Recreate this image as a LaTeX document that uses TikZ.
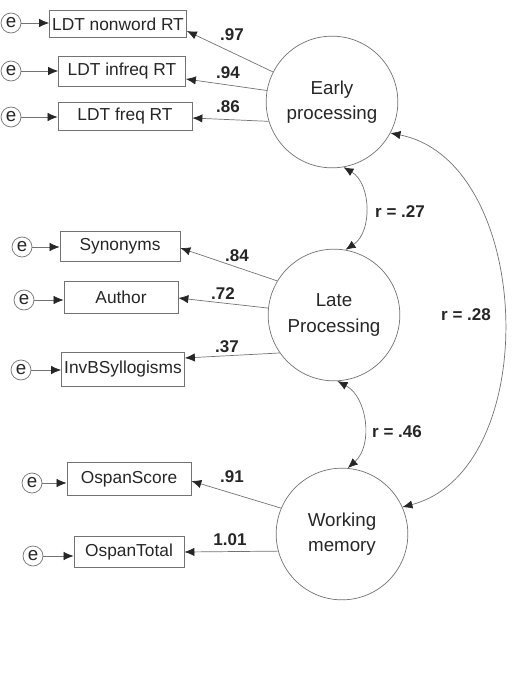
\documentclass[tikz,border=0pt]{standalone}
\usepackage{fontspec}
\setmainfont{Liberation Sans}
\usetikzlibrary{arrows.meta, positioning}

\begin{document}
\begin{tikzpicture}[x=0.03cm, y=-0.03cm, line width=0.6pt, color=black!55,
        >={Latex[length=3mm, width=2.5mm, color=black!85]},
        every node/.style={text=black!85, font=\fontsize{14.8}{21}\selectfont},
        latent/.style={circle, draw, minimum size=3.95cm, align=center, font=\fontsize{16}{21.5}\selectfont},
        obs/.style={rectangle, draw, minimum height=0.9cm, inner sep=2pt},
        err/.style={circle, draw, minimum size=0.6cm, inner sep=0pt, font=\fontsize{16}{18}\selectfont},
        coef/.style={font=\fontsize{14.5}{17}\selectfont\bfseries}]
        \useasboundingbox (0,0) rectangle (513,674);

        % latent factors
        \node[latent] (early) at (332,102) {Early\\processing};
        \node[latent] (late) at (334,315) {Late\\Processing};
        \node[latent] (wm) at (342,534) {Working\\memory};

        % observed measures
        \node[obs, minimum width=4.11cm, minimum height=0.82cm] (nonword) at (118,24) {LDT nonword RT};
        \node[obs, minimum width=3.81cm] (infreq) at (122,71) {LDT infreq RT};
        \node[obs, minimum width=4.02cm, minimum height=0.84cm] (freq) at (125,116) {LDT freq RT};
        \node[obs, minimum width=3.6cm] (syn) at (120,246) {Synonyms};
        \node[obs, minimum width=3.42cm, minimum height=0.96cm] (author) at (121,297) {Author};
        \node[obs, minimum width=3.69cm, minimum height=1.02cm] (invb) at (123,369) {InvBSyllogisms};
        \node[obs, minimum width=3.72cm, minimum height=1cm] (oscore) at (129,479) {OspanScore};
        \node[obs, minimum width=3.3cm, minimum height=0.93cm] (ototal) at (129,552) {OspanTotal};

        % error terms
        \node[err] (e1) at (11,23) {e};
        \node[err] (e2) at (11,71) {e};
        \node[err] (e3) at (11,117) {e};
        \node[err] (e4) at (22,247) {e};
        \node[err] (e5) at (24,300) {e};
        \node[err] (e6) at (21,370) {e};
        \node[err] (e7) at (32,483) {e};
        \node[err] (e8) at (33,556) {e};

        \draw[->] (e1) -- (nonword.west |- e1);
        \draw[->] (e2) -- (infreq.west |- e2);
        \draw[->] (e3) -- (freq.west |- e3);
        \draw[->] (e4) -- (syn.west |- e4);
        \draw[->] (e5) -- (author.west |- e5);
        \draw[->] (e6) -- (invb.west |- e6);
        \draw[->] (e7) -- (oscore.west |- e7);
        \draw[->] (e8) -- (ototal.west |- e8);

        % loadings
        \draw[->] (early.153) -- (nonword.east |- 0,31);
        \draw[->] (early.170) -- (infreq.east |- 0,79);
        \draw[->] (early.197) -- (freq.east |- 0,118);
        \draw[->] (late.149) -- (syn.east |- 0,248);
        \draw[->] (late.174) -- (author.east |- 0,298);
        \draw[->] (late.215) -- (invb.east |- 0,358);
        \draw[->] (wm.157) -- (oscore.east |- 0,481);
        \draw[->] (wm.195) -- (ototal.east |- 0,552);

        \node[coef] (c97) at (232,35) {.97};
        \node[coef] (c94) at (228,73) {.94};
        \node[coef] (c86) at (228,107) {.86};
        \node[coef] (c84) at (237,256) {.84};
        \node[coef] (c72) at (223,294) {.72};
        \node[coef] (c37) at (227,347) {.37};
        \node[coef] (c91) at (232,477) {.91};
        \node[coef] (c101) at (230,540) {1.01};

        % correlations
        \draw[<->] (early.-80) to[bend left=58] (late.80);
        \node[coef] (r27) at (400,212) {r = .27};
        \draw[<->] (late.-87) to[bend left=55] (wm.85);
        \node[coef] (r46) at (397,432) {r = .46};
        \draw[<->] (early.-28) to[bend left=77] (wm.24);
        \node[coef] (r28) at (466,315) {r = .28};
    \end{tikzpicture}
\end{document}
